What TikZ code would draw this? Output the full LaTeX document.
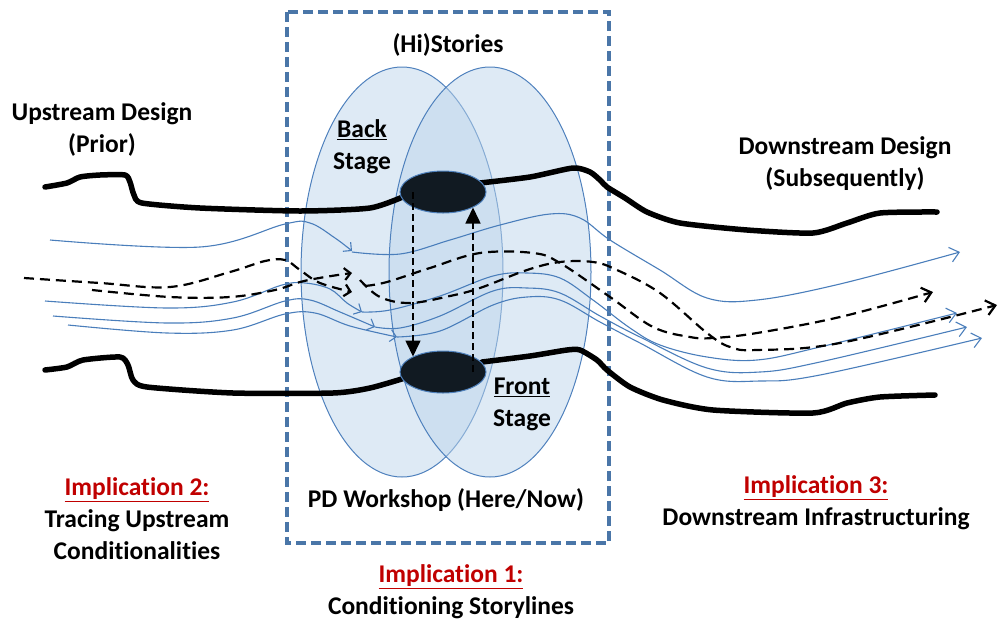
\documentclass[tikz,border=0pt]{standalone}
\usepackage{fontspec}
\setmainfont{Carlito}[Ligatures=NoCommon]
\usetikzlibrary{arrows.meta,shapes.geometric}
\definecolor{boxblue}{HTML}{4A76A8}
\definecolor{flowblue}{HTML}{4A7EBB}
\definecolor{stagefill}{RGB}{189,213,235}
\definecolor{stageline}{HTML}{4F81BD}
\definecolor{implred}{HTML}{C00000}
\definecolor{ovalfill}{HTML}{111A22}
\tikzset{
	lbl/.style={font=\fontsize{25.5}{32}\selectfont\bfseries, align=center, inner sep=0pt},
	stage/.style={ellipse, draw=stageline, line width=1pt, fill=stagefill, fill opacity=0.5, minimum width=202pt, minimum height=410pt, inner sep=0pt},
	oval/.style={ellipse, draw=stageline, line width=1pt, fill=ovalfill, minimum width=86pt, minimum height=42pt, inner sep=0pt},
	bound/.style={line width=5.5pt, line join=round, line cap=round},
	flow/.style={flowblue, line width=1.1pt},
	storyline/.style={black, line width=2.2pt, dash pattern=on 10pt off 6pt},
	midtip/.style={-{Straight Barb[length=6pt,width=12pt]}},
	endtip/.style={-{Straight Barb[length=9pt,width=15pt]}},
	handover/.style={line width=1.6pt, dash pattern=on 7pt off 4pt, -{Triangle[length=16pt,width=15pt]}}
}
\begin{document}
\begin{tikzpicture}[x=1pt,y=-1pt]
	\useasboundingbox (0,0) rectangle (999,622);
	\draw [boxblue, line width=3.5pt, dash pattern=on 10pt off 5pt] (287,12) rectangle (609,543);
	\node [stage] (backstage) at (402,272) {};
	\node [stage] (frontstage) at (490,272) {};

	\draw [flow, midtip] plot [smooth, tension=0.6] coordinates {(50,240) (200,247) (285,224) (310,223) (335,238) (352,251)};
	\draw [flow, midtip] plot [smooth, tension=0.6] coordinates {(45,301) (167,308) (233,302) (282,285) (305,283) (330,289) (347,303) (362,312)};
	\draw [flow, midtip] plot [smooth, tension=0.6] coordinates {(53,316) (167,323) (233,318) (285,301) (310,300) (340,312) (375,327)};
	\draw [flow, midtip] plot [smooth, tension=0.6] coordinates {(68,325) (167,333) (233,330) (285,314) (315,313) (350,326) (397,337)};
	\draw [storyline, midtip] plot [smooth, tension=0.6] coordinates {(24,278) (100,283) (170,287) (230,272) (265,261) (285,260) (300,270) (320,283) (352,292)};
	\draw [storyline, midtip] plot [smooth, tension=0.6] coordinates {(92,290) (170,297) (230,297) (275,290) (300,282) (325,277) (352,273)};

	\draw [flow, endtip] plot [smooth, tension=0.6] coordinates {(352,252) (400,254) (450,240) (500,225) (550,214) (580,218) (610,240) (660,270) (707,298) (757,300) (840,284) (960,252)};
	\draw [flow, endtip] plot [smooth, tension=0.6] coordinates {(362,312) (390,310) (440,296) (493,276) (527,273) (560,278) (593,300) (630,328) (660,345) (707,357) (757,360) (820,347) (957,313)};
	\draw [flow, endtip] plot [smooth, tension=0.6] coordinates {(375,327) (400,328) (440,316) (493,291) (527,288) (560,293) (600,316) (640,337) (707,368) (760,372) (820,362) (967,327)};
	\draw [flow, endtip] plot [smooth, tension=0.6] coordinates {(397,337) (440,331) (493,305) (527,297) (560,300) (600,322) (640,343) (707,377) (760,381) (820,375) (982,338)};
	\draw [storyline, endtip] plot [smooth, tension=0.6] coordinates {(365,286) (387,282) (430,268) (480,253) (533,253) (560,263) (610,297) (653,327) (690,337) (713,338) (757,333) (840,317) (933,292)};
	\draw [storyline, endtip] plot [smooth, tension=0.6] coordinates {(360,280) (380,297) (410,303) (450,296) (480,288) (527,270) (560,262) (593,262) (617,270) (660,293) (707,333) (730,347) (757,350) (840,343) (997,305)};

	\draw [bound] plot [smooth, tension=0.4] coordinates {(45,187) (67,183) (80,177) (100,175) (125,175) (130,182) (134,195) (142,203) (200,208) (300,211) (370,208) (405,196)};
	\draw [bound] plot [smooth, tension=0.4] coordinates {(480,183) (530,177) (573,168) (590,172) (600,180) (607,187) (625,198) (647,212) (680,223) (747,230) (813,233) (847,223) (880,213) (937,212)};
	\draw [bound] plot [smooth, tension=0.4] coordinates {(45,370) (67,367) (83,360) (120,357) (128,365) (133,380) (147,387) (233,393) (333,393) (370,388) (405,378)};
	\draw [bound] plot [smooth, tension=0.4] coordinates {(482,362) (530,356) (567,350) (580,350) (597,360) (607,370) (630,387) (663,400) (713,410) (813,413) (847,403) (880,397) (935,395)};

	\node [oval] (backoval) at (443,192) {};
	\node [oval] (frontoval) at (443,372) {};
	\coordinate (dn) at (413,0);
	\coordinate (up) at (473,0);
	\draw [handover] (dn |- backoval) -- ([yshift=-6pt]dn |- frontoval.north);
	\draw [handover] (up |- frontoval) -- ([yshift=6pt]up |- backoval.south);

	\node [lbl] (histories) at (448,45) {(Hi)Stories};
	\node [lbl] (back) at (362,147) {\underline{Back}\\Stage};
	\node [lbl] (front) at (522,404) {\underline{Front}\\Stage};
	\node [lbl] (workshop) at (446,500) {PD Workshop (Here/Now)};
	\node [lbl] (upstream) at (102,129) {Upstream Design\\(Prior)};
	\node [lbl] (downstream) at (845,164) {Downstream Design\\(Subsequently)};
	\node [lbl] (impl2) at (137,519) {\textcolor{implred}{\underline{Implication 2:}}\\Tracing Upstream\\Conditionalities};
	\node [lbl] (impl1) at (451,592) {\textcolor{implred}{\underline{Implication 1:}}\\Conditioning Storylines};
	\node [lbl] (impl3) at (816,503) {\textcolor{implred}{\underline{Implication 3:}}\\Downstream Infrastructuring};
\end{tikzpicture}
\end{document}
